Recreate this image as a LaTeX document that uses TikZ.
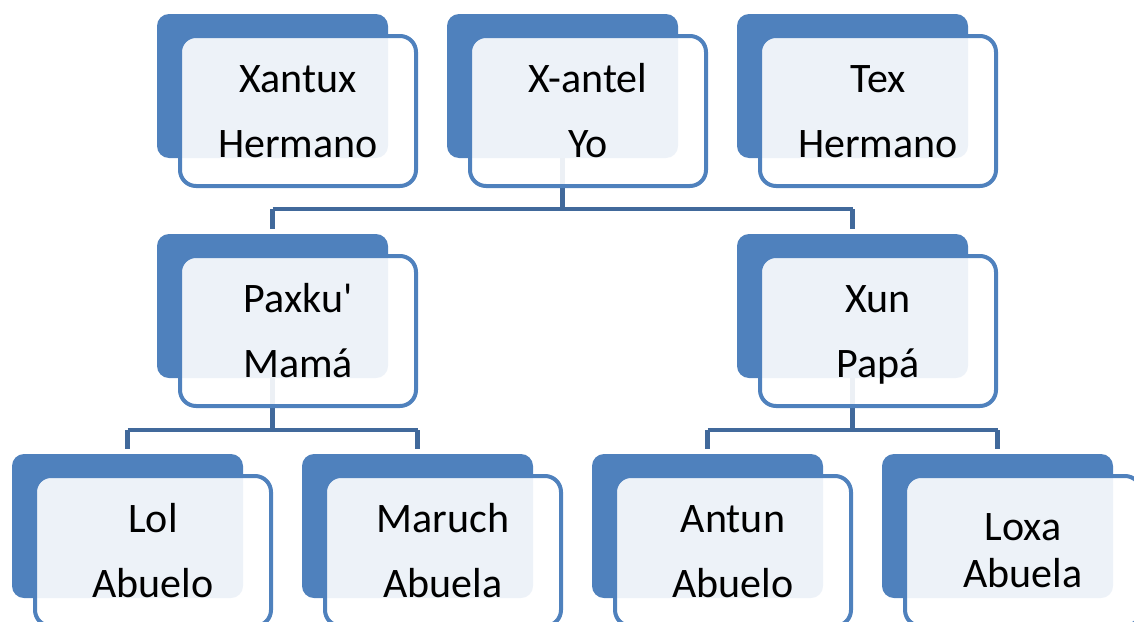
\documentclass[tikz,border=0pt]{standalone}
\usepackage{fontspec}
\setmainfont{Carlito}
\definecolor{boxblue}{RGB}{79,129,189}
\definecolor{connblue}{RGB}{65,105,155}
\tikzset{
  backbox/.style={fill=boxblue, draw=none, rounded corners=9pt, minimum width=173.25pt, minimum height=108pt, inner sep=0pt},
  frontbox/.style={fill=white, fill opacity=0.9, draw=boxblue, line width=3pt, rounded corners=12pt, minimum width=177pt, minimum height=112.5pt, inner sep=0pt},
  txt/.style={anchor=base, inner sep=0pt, font=\fontsize{31.5pt}{37pt}\selectfont},
  conn/.style={draw=connblue, line width=3.2pt},
}
\begin{document}
\begin{tikzpicture}[x=0.75pt,y=-0.75pt]
\path[use as bounding box, clip] (0,0) rectangle (1134,621);
% back boxes
\node[backbox] (b1) at (272.5,86) {};
\node[backbox] (b2) at (562.5,86) {};
\node[backbox] (b3) at (852.5,86) {};
\node[backbox] (b4) at (272.5,306) {};
\node[backbox] (b5) at (852.5,306) {};
\node[backbox] (b6) at (127.5,526) {};
\node[backbox] (b7) at (417.5,526) {};
\node[backbox] (b8) at (707.5,526) {};
\node[backbox] (b9) at (997.5,526) {};
% connectors
\coordinate (j1) at (562.5,209);
\coordinate (j2) at (272.5,430);
\coordinate (j3) at (852.5,430);
\draw[conn] (b2.south) -- (j1);
\draw[conn] (j1 -| b4.north) -- (j1 -| b5.north);
\draw[conn,shorten >=3.5pt] (j1 -| b4.north) -- (b4.north);
\draw[conn,shorten >=3.5pt] (j1 -| b5.north) -- (b5.north);
\draw[conn] (b4.south) -- (j2);
\draw[conn] (j2 -| b6.north) -- (j2 -| b7.north);
\draw[conn,shorten >=3.5pt] (j2 -| b6.north) -- (b6.north);
\draw[conn,shorten >=3.5pt] (j2 -| b7.north) -- (b7.north);
\draw[conn] (b5.south) -- (j3);
\draw[conn] (j3 -| b8.north) -- (j3 -| b9.north);
\draw[conn,shorten >=3.5pt] (j3 -| b8.north) -- (b8.north);
\draw[conn,shorten >=3.5pt] (j3 -| b9.north) -- (b9.north);
% front boxes
\node[frontbox] (f1) at (298,111) {};
\node[frontbox] (f2) at (588,111) {};
\node[frontbox] (f3) at (878,111) {};
\node[frontbox] (f4) at (298,331) {};
\node[frontbox] (f5) at (878,331) {};
\node[frontbox] (f6) at (153,551) {};
\node[frontbox] (f7) at (443,551) {};
\node[frontbox] (f8) at (733,551) {};
\node[frontbox] (f9) at (1023,551) {};
% texts
\node[txt] (t1a) at (298,92) {Xantux};
\node[txt] (t1b) at (298,157) {Hermano};
\node[txt] (t2a) at (588,92) {X-antel};
\node[txt] (t2b) at (588,157) {Yo};
\node[txt] (t3a) at (878,92) {Tex};
\node[txt] (t3b) at (878,157) {Hermano};
\node[txt] (t4a) at (298,312) {Paxku\textquotesingle};
\node[txt] (t4b) at (298,377) {Mamá};
\node[txt] (t5a) at (878,312) {Xun};
\node[txt] (t5b) at (878,377) {Papá};
\node[txt] (t6a) at (153,532) {Lol};
\node[txt] (t6b) at (153,597) {Abuelo};
\node[txt] (t7a) at (443,532) {Maruch};
\node[txt] (t7b) at (443,597) {Abuela};
\node[txt] (t8a) at (733,532) {Antun};
\node[txt] (t8b) at (733,597) {Abuelo};
\node[txt] (t9a) at (1023,540) {Loxa};
\node[txt] (t9b) at (1023,587) {Abuela};
\end{tikzpicture}
\end{document}
